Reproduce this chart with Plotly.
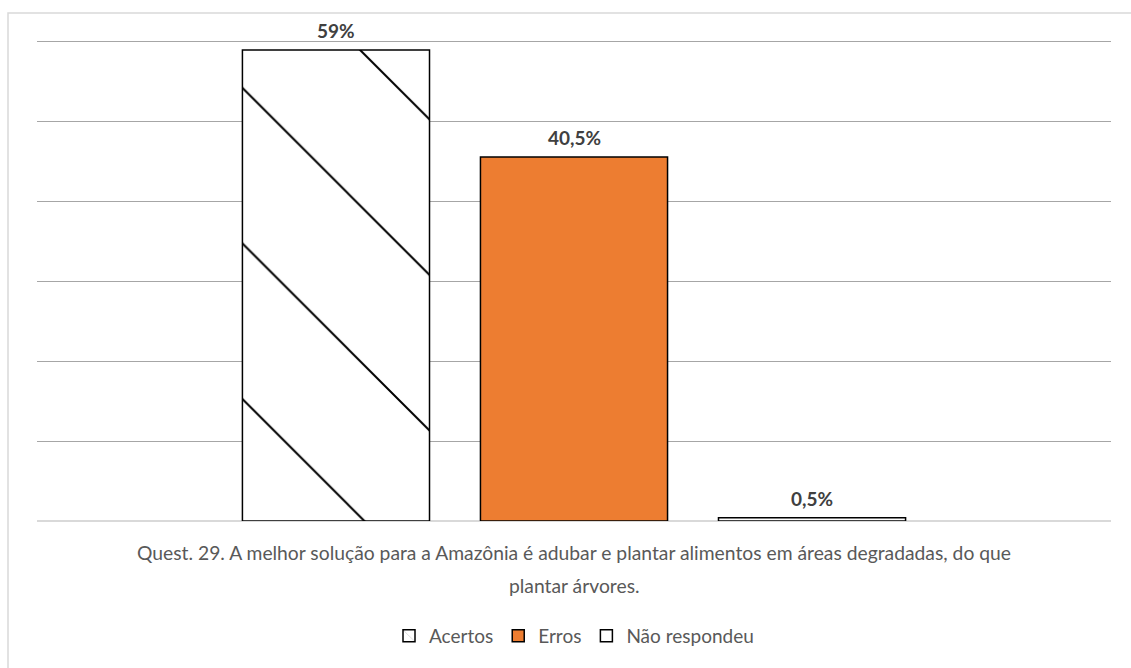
import plotly.graph_objects as go

categories = ["Acertos", "Erros", "Não respondeu"]
bar_heights = [59, 45.6, 0.4]          # heights as drawn on the (unlabelled) axis
labels = ["59%", "40,5%", "0,5%"]
title_lines = [
    "Quest. 29. A melhor solução para a Amazônia é adubar e plantar alimentos em áreas degradadas, do que",
    "plantar árvores.",
]

FONT = "Lato"
GRAY = "#595959"

fig = go.Figure()

fig.add_trace(go.Bar(
    name=categories[0], x=[categories[0]], y=[bar_heights[0]], width=0.786,
    marker=dict(color="white", line=dict(color="black", width=1.5),
                pattern=dict(shape="\\", size=110, solidity=0.018,
                             fgcolor="black", bgcolor="white", fgopacity=1)),
))
fig.add_trace(go.Bar(
    name=categories[1], x=[categories[1]], y=[bar_heights[1]], width=0.786,
    marker=dict(color="#ED7D31", line=dict(color="black", width=1.5)),
))
fig.add_trace(go.Bar(
    name=categories[2], x=[categories[2]], y=[bar_heights[2]], width=0.786,
    marker=dict(color="white", line=dict(color="black", width=1.5)),
))

for c, h, lab in zip(categories, bar_heights, labels):
    fig.add_annotation(x=c, y=h, text=f"<b>{lab}</b>", showarrow=False,
                       yanchor="bottom", yshift=6,
                       font=dict(family=FONT, size=19, color="#404040"))

fig.add_annotation(xref="paper", yref="paper", x=0.5, y=0, yshift=-31,
                   text=title_lines[0], showarrow=False, yanchor="middle",
                   font=dict(family=FONT, size=19.3, color=GRAY))
fig.add_annotation(xref="paper", yref="paper", x=0.5, y=0, yshift=-64,
                   text=title_lines[1], showarrow=False, yanchor="middle",
                   font=dict(family=FONT, size=19.3, color=GRAY))

# outer chart border
fig.add_shape(type="rect", xref="paper", yref="paper",
              x0=-0.027, x1=1.04, y0=-0.36, y1=1.052,
              line=dict(color="#d9d9d9", width=1.5), layer="below")

fig.update_layout(
    width=1131, height=668,
    margin=dict(l=37, r=20, t=38, b=147),
    paper_bgcolor="white", plot_bgcolor="white",
    barmode="overlay",
    showlegend=True,
    legend=dict(orientation="h", x=0.5, xanchor="center", y=-0.238, yanchor="middle",
                font=dict(family=FONT, size=19, color=GRAY),
                itemwidth=30, traceorder="normal"),
    xaxis=dict(type="category", range=[-1.256, 3.256], showticklabels=False,
               showgrid=False, zeroline=False, showline=False, ticks=""),
    yaxis=dict(range=[0, 60.5], dtick=10, showticklabels=False, ticks="",
               showgrid=True, gridcolor="#a6a6a6", gridwidth=1,
               zeroline=True, zerolinecolor="#d9d9d9", zerolinewidth=1.5,
               showline=False),
    font=dict(family=FONT),
)

fig.write_html("out.html")
